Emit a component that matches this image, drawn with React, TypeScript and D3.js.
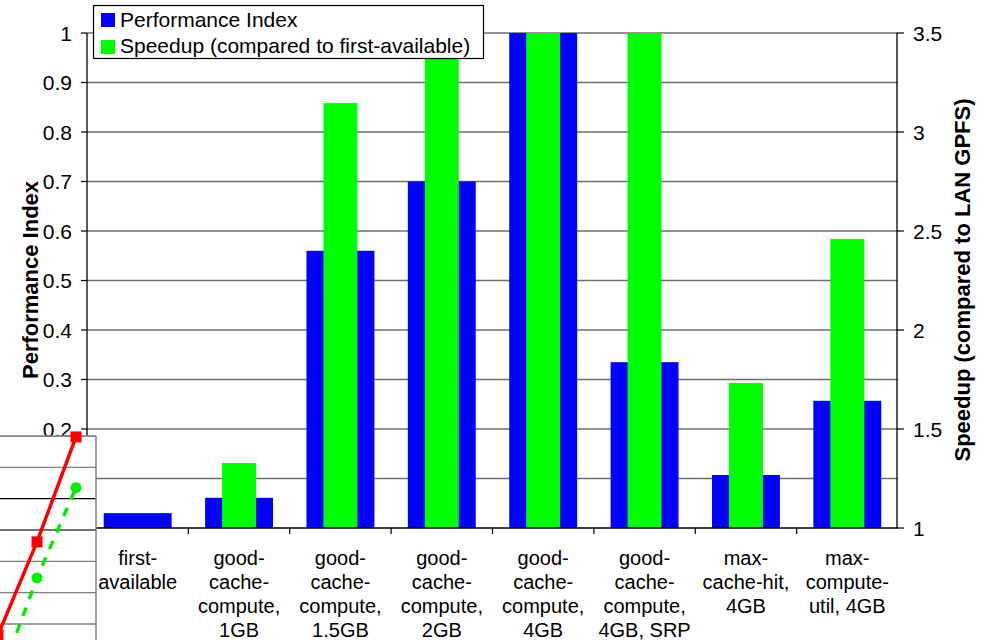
import React from "react";
import * as d3 from "d3";

const categories = [
  "first-available",
  "good-cache-compute, 1GB",
  "good-cache-compute, 1.5GB",
  "good-cache-compute, 2GB",
  "good-cache-compute, 4GB",
  "good-cache-compute, 4GB, SRP",
  "max-cache-hit, 4GB",
  "max-compute-util, 4GB",
];
const categoryLines = [
  ["first-", "available"],
  ["good-", "cache-", "compute,", "1GB"],
  ["good-", "cache-", "compute,", "1.5GB"],
  ["good-", "cache-", "compute,", "2GB"],
  ["good-", "cache-", "compute,", "4GB"],
  ["good-", "cache-", "compute,", "4GB, SRP"],
  ["max-", "cache-hit,", "4GB"],
  ["max-", "compute-", "util, 4GB"],
];
const performanceIndex = [0.03, 0.061, 0.56, 0.7, 1.0, 0.335, 0.107, 0.257];
const speedup = [1.0, 1.328, 3.146, 3.38, 3.5, 3.5, 1.732, 2.46];
const leftTicks = [0, 0.1, 0.2, 0.3, 0.4, 0.5, 0.6, 0.7, 0.8, 0.9, 1];
const rightTicks = [1, 1.5, 2, 2.5, 3, 3.5];

// overlapping fragment of another chart (bottom-left)
const insetX = [0, 1, 2];
const insetRed = [-0.35, 2.62, 5.97];
const insetGreen = [-1.9, 1.47, 4.35];
const insetGrid = [-1, 0, 1, 2, 3, 4, 5, 6];

const W = 987;
const H = 640;
const FONT = "'Liberation Sans', Arial, Helvetica, sans-serif";

export default function App() {
  const x = d3.scaleBand<string>().domain(categories).range([87, 898]).paddingInner(0).paddingOuter(0);
  const yL = d3.scaleLinear().domain([0, 1]).range([528, 33]);
  const yR = d3.scaleLinear().domain([1, 3.5]).range([528, 33]);
  const bw = x.bandwidth();
  const blueW = bw * 0.67;
  const greenW = bw * 0.335;

  const ix = d3.scaleLinear().domain([0, 2]).range([-2, 76]);
  const iy = d3.scaleLinear().domain([0, 6]).range([624, 436]);
  const line = d3
    .line<number>()
    .x((_, i) => ix(insetX[i]))
    .y((d) => iy(d));

  const fmt = (v: number) => (v === 0 ? "0" : v === 1 ? "1" : d3.format(".1f")(v));
  const fmtR = (v: number) => (Number.isInteger(v) ? String(v) : d3.format(".1f")(v));

  return (
    <svg
      width={W}
      height={H}
      style={{ position: "absolute", left: 0, top: 0, background: "#fff" }}
      fontFamily={FONT}
    >
      <rect x={0} y={0} width={W} height={H} fill="#fff" />
      {/* gridlines */}
      {leftTicks.slice(1).map((t) => (
        <line key={"g" + t} x1={87} x2={898} y1={yL(t)} y2={yL(t)} stroke="#6e6e6e" strokeWidth={1.6} />
      ))}
      {/* blue bars */}
      {categories.map((c, i) => (
        <rect
          key={"b" + c}
          x={x(c)! + (bw - blueW) / 2}
          y={yL(performanceIndex[i])}
          width={blueW}
          height={yL(0) - yL(performanceIndex[i])}
          fill="#0000ff"
        />
      ))}
      {/* green bars */}
      {categories.map((c, i) => (
        <rect
          key={"s" + c}
          x={x(c)! + (bw - greenW) / 2}
          y={yR(speedup[i])}
          width={greenW}
          height={yR(1) - yR(speedup[i])}
          fill="#00ff00"
        />
      ))}
      {/* axes */}
      <line x1={87} x2={87} y1={33} y2={528} stroke="#000" strokeWidth={1.3} />
      <line x1={897} x2={897} y1={33} y2={528} stroke="#000" strokeWidth={1.3} />
      <line x1={87} x2={898} y1={528} y2={528} stroke="#000" strokeWidth={1.6} />
      {leftTicks.map((t) => (
        <g key={"lt" + t}>
          <line x1={81} x2={87} y1={yL(t)} y2={yL(t)} stroke="#000" strokeWidth={1.2} />
          <text x={72} y={yL(t)} textAnchor="end" dominantBaseline="central" fontSize={21} fill="#000">
            {fmt(t)}
          </text>
        </g>
      ))}
      {rightTicks.map((t) => (
        <g key={"rt" + t}>
          <line x1={897} x2={904} y1={yR(t)} y2={yR(t)} stroke="#000" strokeWidth={1.2} />
          <text x={913} y={yR(t)} textAnchor="start" dominantBaseline="central" fontSize={21} fill="#000">
            {fmtR(t)}
          </text>
        </g>
      ))}
      {categories.slice(1).map((c) => (
        <line key={"xt" + c} x1={x(c)!} x2={x(c)!} y1={528} y2={534} stroke="#000" strokeWidth={1.2} />
      ))}
      {/* category labels */}
      {categories.map((c, i) => (
        <text key={"cl" + c} textAnchor="middle" fontSize={20} fill="#000">
          {categoryLines[i].map((ln, j) => (
            <tspan key={j} x={x(c)! + bw / 2} y={565 + 24 * j}>
              {ln}
            </tspan>
          ))}
        </text>
      ))}
      {/* axis titles */}
      <text
        transform="translate(30,280) rotate(-90)"
        textAnchor="middle"
        dominantBaseline="central"
        fontSize={22}
        fontWeight="bold"
        fill="#000"
      >
        Performance Index
      </text>
      <text
        transform="translate(962,280) rotate(-90)"
        textAnchor="middle"
        dominantBaseline="central"
        fontSize={22}
        fontWeight="bold"
        fill="#000"
      >
        Speedup (compared to LAN GPFS)
      </text>
      {/* legend */}
      <rect x={93.5} y={5.5} width={390} height={53} fill="#fff" stroke="#000" strokeWidth={1.2} />
      <rect x={101} y={13} width={14} height={14} fill="#0000ff" />
      <text x={120} y={26.5} fontSize={21} fill="#000">
        Performance Index
      </text>
      <rect x={101} y={40} width={14} height={14} fill="#00ff00" />
      <text x={120} y={53} fontSize={21} fill="#000">
        Speedup (compared to first-available)
      </text>
      {/* overlapping fragment of another chart */}
      <defs>
        <clipPath id="insetClip">
          <rect x={0} y={436} width={96} height={204} />
        </clipPath>
        <clipPath id="insetMarkClip">
          <rect x={0} y={420} width={96} height={220} />
        </clipPath>
      </defs>
      <g clipPath="url(#insetClip)">
        <rect x={0} y={436} width={96} height={204} fill="#fff" />
        {insetGrid.map((g) => (
          <line
            key={"ig" + g}
            x1={0}
            x2={96}
            y1={iy(g)}
            y2={iy(g)}
            stroke={g === 4 ? "#000" : g === 3 ? "#444" : "#808080"}
            strokeWidth={1.3}
          />
        ))}
      </g>
      <line x1={0} x2={96} y1={436} y2={436} stroke="#808080" strokeWidth={1.5} />
      <line x1={96} x2={96} y1={436} y2={640} stroke="#808080" strokeWidth={1.5} />
      <g clipPath="url(#insetMarkClip)">
        <path d={line(insetGreen) || ""} fill="none" stroke="#00ee00" strokeWidth={3.5} strokeDasharray="9,9" />
        <path d={line(insetRed) || ""} fill="none" stroke="#ff0000" strokeWidth={3.5} />
        {insetX.map((v, i) => (
          <circle key={"ic" + i} cx={ix(v)} cy={iy(insetGreen[i])} r={5.5} fill="#00ee00" />
        ))}
        {insetX.map((v, i) => (
          <rect key={"ir" + i} x={ix(v) - 5.5} y={iy(insetRed[i]) - 5.5} width={11} height={11} fill="#ff0000" />
        ))}
      </g>
    </svg>
  );
}
